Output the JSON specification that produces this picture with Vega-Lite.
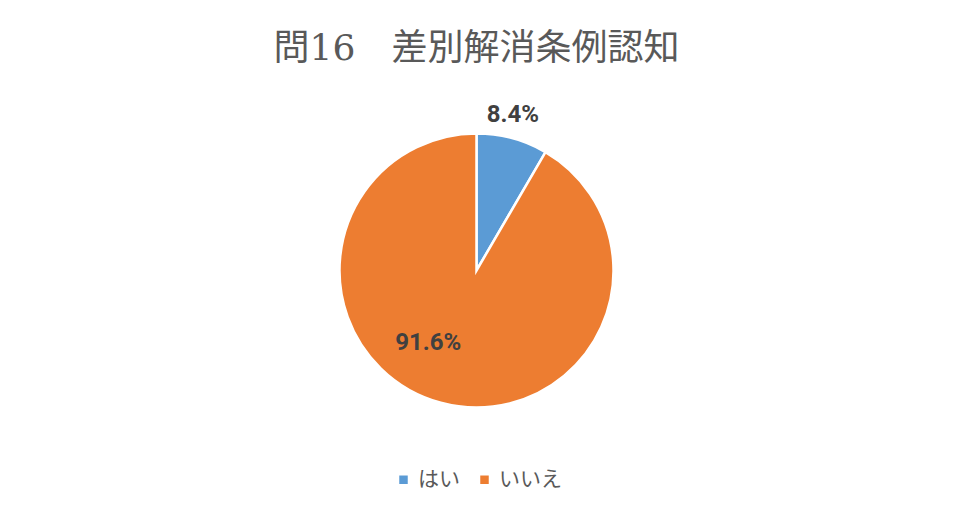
{
  "$schema": "https://vega.github.io/schema/vega-lite/v6.json",
  "width": 953,
  "height": 519,
  "autosize": {"type": "fit", "contains": "padding"},
  "padding": {"top": 31, "bottom": 66, "left": 0, "right": 0},
  "background": "white",
  "title": {
    "text": "問16　差別解消条例認知",
    "fontSize": 36,
    "font": "DejaVu Serif, Noto Sans CJK JP",
    "fontWeight": "normal",
    "color": "#595959",
    "offset": 20,
    "anchor": "middle"
  },
  "config": {"view": {"stroke": null}},
  "data": {
    "values": [
      {"answer": "はい", "percent": 8.4, "label": "8.4%"},
      {"answer": "いいえ", "percent": 91.6, "label": "91.6%"}
    ]
  },
  "encoding": {
    "theta": {"field": "percent", "type": "quantitative", "stack": true},
    "order": {"field": "percent", "sort": "ascending"}
  },
  "layer": [
    {
      "mark": {"type": "arc", "outerRadius": 137, "stroke": "white", "strokeWidth": 2.5},
      "encoding": {
        "color": {
          "field": "answer",
          "type": "nominal",
          "scale": {"domain": ["はい", "いいえ"], "range": ["#5B9BD5", "#ED7D31"]},
          "legend": {
            "orient": "none",
            "legendX": 393,
            "legendY": 381,
            "direction": "horizontal",
            "title": null,
            "symbolType": "square",
            "symbolSize": 72,
            "symbolStrokeWidth": 0,
            "labelFont": "Noto Sans CJK JP",
            "labelFontSize": 21,
            "labelColor": "#595959",
            "columnPadding": 14,
            "labelOffset": 4
          }
        }
      }
    },
    {
      "mark": {"type": "text", "radius": 160, "thetaOffset": -0.035, "font": "Roboto", "fontSize": 24, "fontWeight": "bold", "color": "#404040"},
      "encoding": {
        "text": {"condition": {"test": "datum.answer === 'はい'", "field": "label"}, "value": ""}
      }
    },
    {
      "mark": {"type": "text", "radius": 87, "thetaOffset": 0.325, "font": "Roboto", "fontSize": 24, "fontWeight": "bold", "color": "#404040"},
      "encoding": {
        "text": {"condition": {"test": "datum.answer === 'いいえ'", "field": "label"}, "value": ""}
      }
    }
  ]
}
